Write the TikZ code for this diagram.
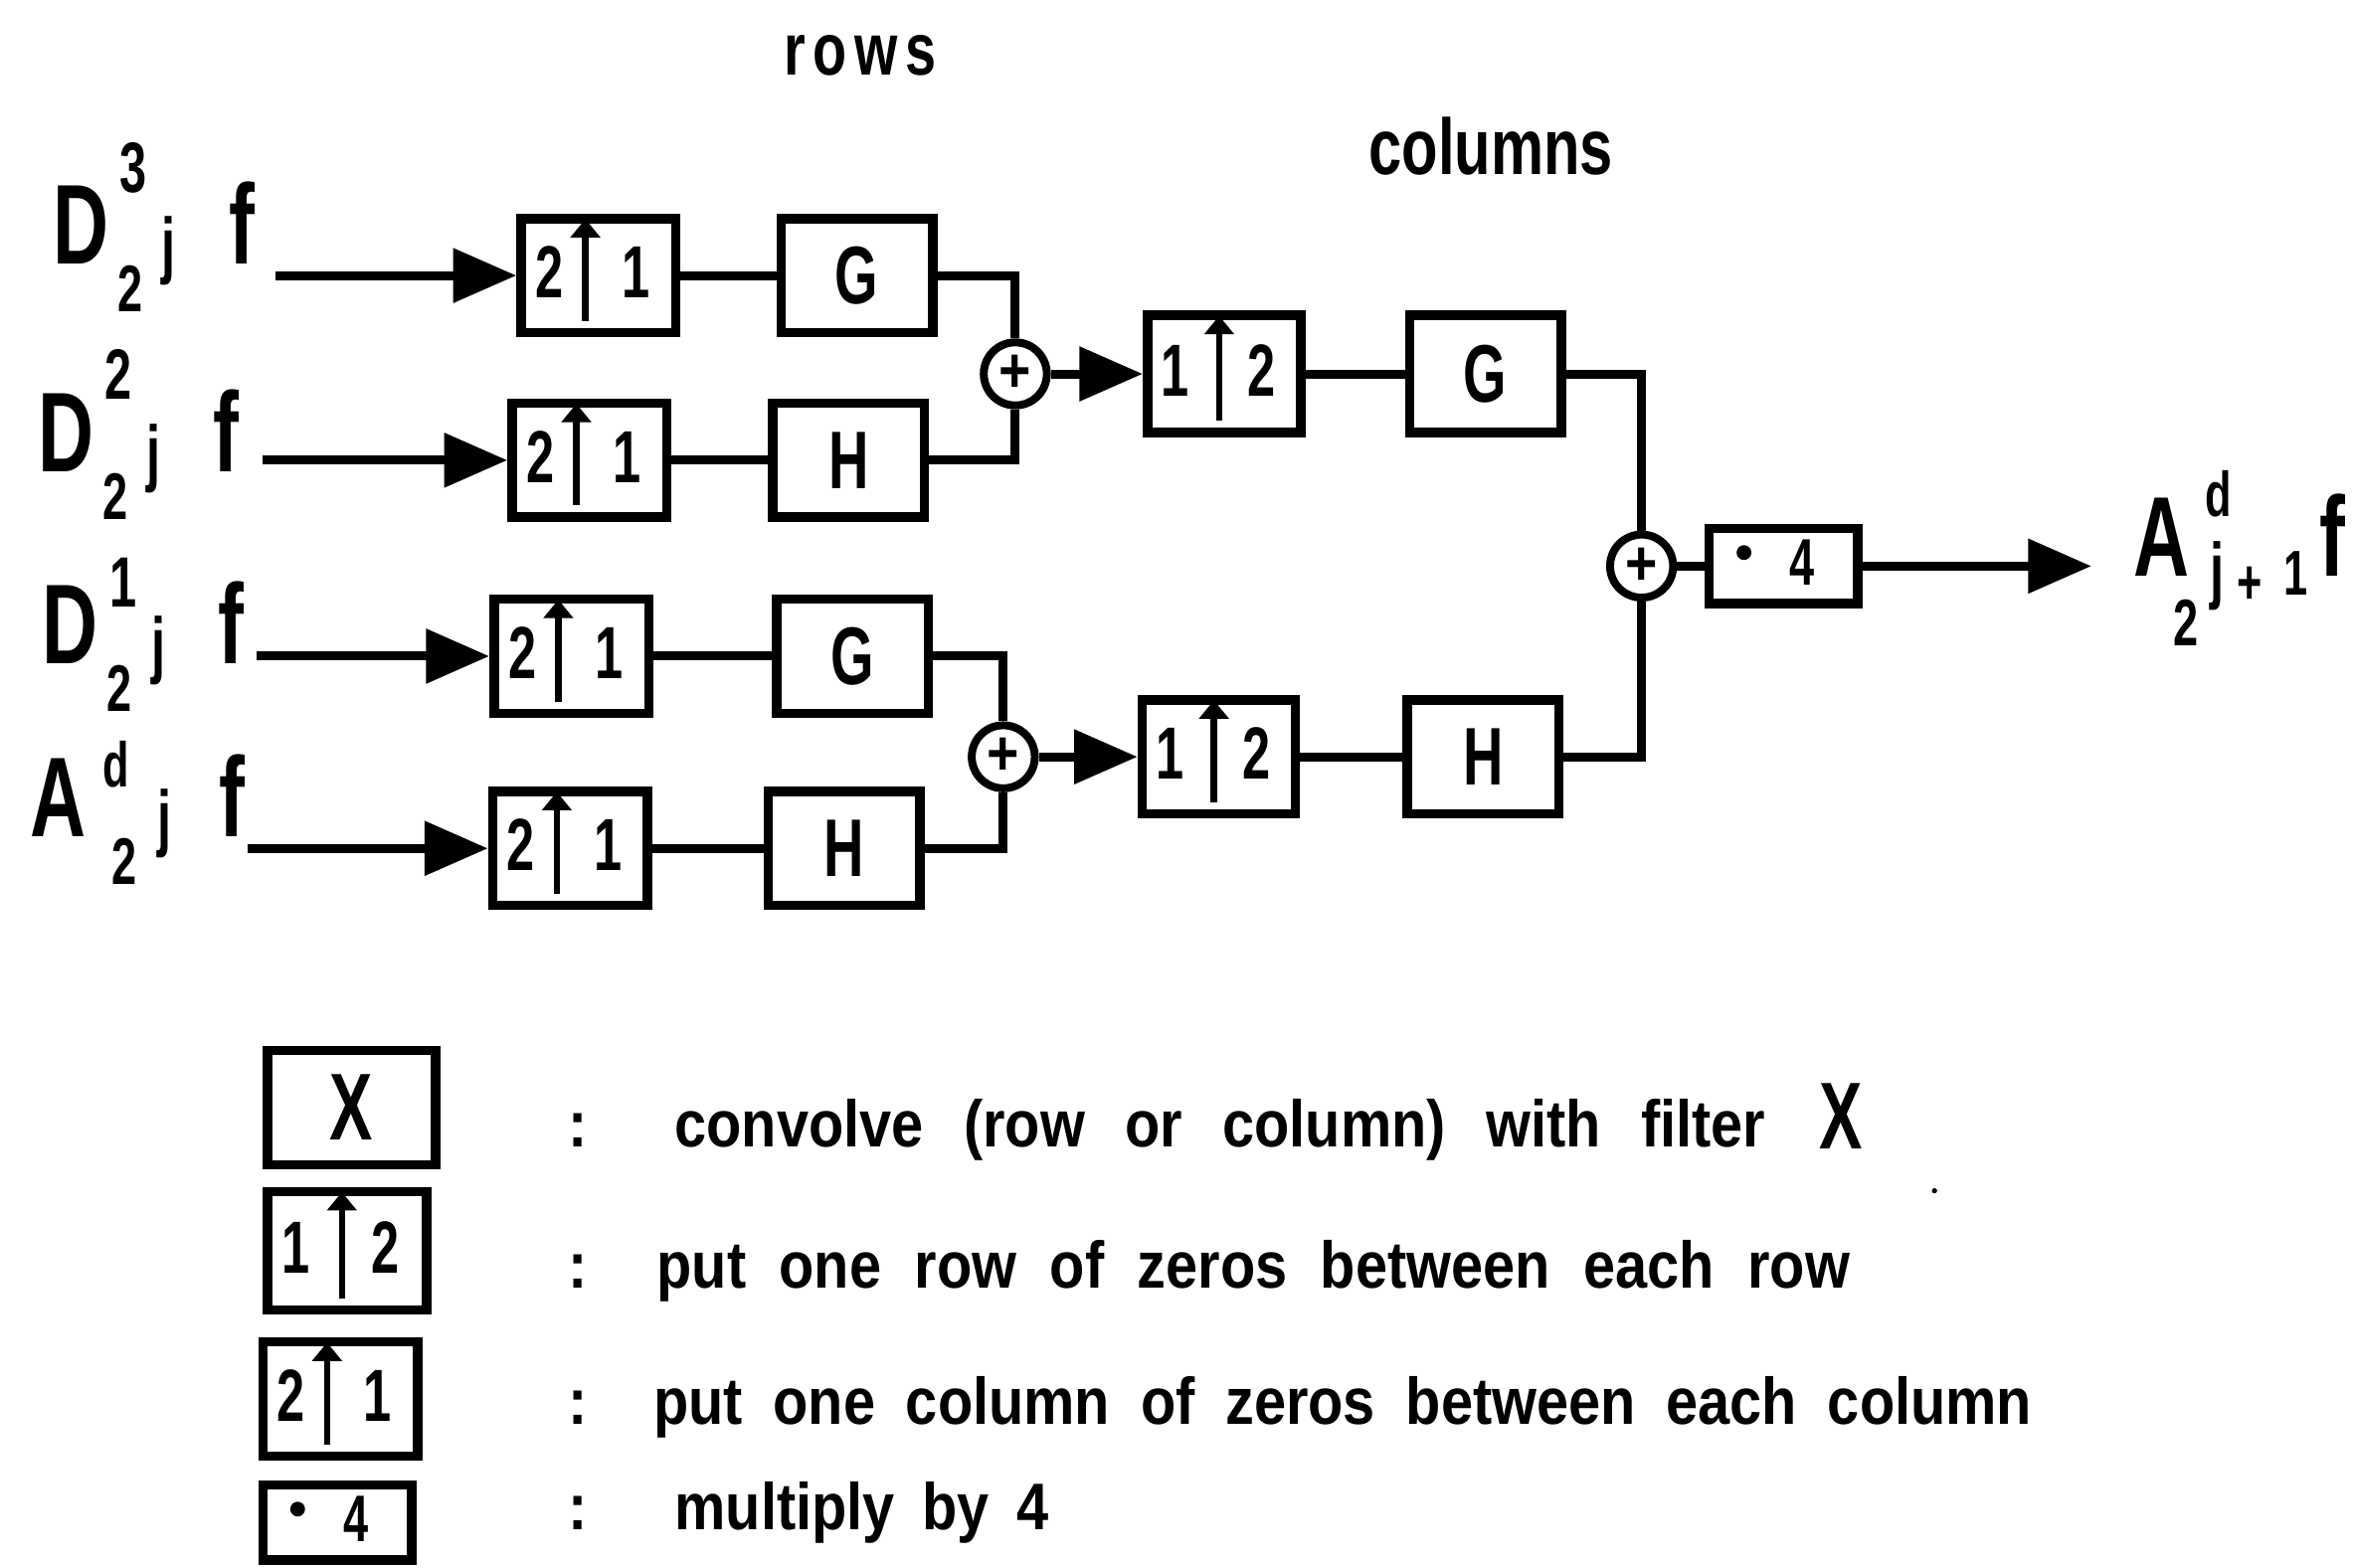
\documentclass[tikz,border=0pt]{standalone}
\usepackage{fontspec}
\setmainfont{Liberation Sans}
\newfontfamily\nar[FakeStretch=0.68]{Liberation Sans Bold}
\newfontfamily\semi[FakeStretch=0.75]{Liberation Sans Bold}
\newfontfamily\leg[FakeStretch=0.87]{Liberation Sans Bold}
\usetikzlibrary{arrows.meta,calc}
\newlength\pu \setlength\pu{0.2mm}
\newcommand\gl[3]{\rlap{\hspace{#1\pu}\raisebox{#2\pu}{#3}}}
\newcommand\fs[1]{\fontsize{#1}{#1}\selectfont}
\newcommand\inlab[3]{\gl{0}{0}{\nar\fs{43}#1}\gl{44.5}{#3}{\nar\fs{27}#2}\gl{43}{-32}{\nar\fs{25}2}\gl{72.5}{-4}{\nar\fs{28}j}\hspace{117\pu}{\nar\fs{43}f}}
\tikzset{
  ups/.style={draw, line width=3.6pt, inner sep=0pt},
  filt/.style={draw, line width=3.6pt, inner sep=0pt, minimum width=101\pu, minimum height=76\pu, font=\nar\fs{31}},
  adder/.style={draw, circle, line width=3pt, inner sep=0pt, minimum size=42\pu, font=\leg\fs{24}},
  dig/.style={anchor=base, inner sep=0pt, font=\nar\fs{28}},
  wire/.style={line width=3.4pt},
  arr/.style={wire, -{Triangle[length=24pt,width=20pt]}},
  uparr/.style={line width=2.4pt, shorten >=2pt, -{Triangle[length=7pt,width=11pt]}},
  txt/.style={anchor=base west, inner sep=0pt, font=\leg\fs{25}},
}
\newcommand\upbox[7]{%
  \node[ups, minimum width=#6\pu, minimum height=#7\pu] (#1) at #2 {};
  \node[dig] (#1-a) at ($(#1.west)!0.2!(#1.east)+(0,15)$) {#3};
  \node[dig] (#1-b) at ($(#1.west)!0.73!(#1.east)+(0,15)$) {#4};
  \draw[uparr] ($(#1.south west)!#5!(#1.south east)+(0,-11)$) -- ($(#1.north west)!#5!(#1.north east)$);
}
\newcommand\mulbox[4]{%
  \node[ups, minimum width=#3\pu, minimum height=#4\pu] (#1) at #2 {};
  \fill ($(#1.west)!0.25!(#1.east)+(0,-9)$) circle (2.8pt);
  \node[dig, font=\nar\fs{25}] (#1-n) at ($(#1.west)!0.62!(#1.east)+(0,13)$) {4};
}
\begin{document}
\begin{tikzpicture}[x=0.2mm, y=-0.2mm]
\useasboundingbox (0,0) rectangle (1568,1044);

% headings
\node[anchor=base west, inner sep=0pt, font=\semi\fs{28}\addfontfeature{LetterSpace=10}] (rows) at (522,50) {rows};
\node[anchor=base west, inner sep=0pt, font=\semi\fs{30}] (cols) at (911,116) {columns};

% input labels
\node[anchor=base west, inner sep=0pt] (in3) at (35,175.5) {\inlab{D}{3}{47.5}};
\node[anchor=base west, inner sep=0pt] (in2) at (25,314) {\inlab{D}{2}{48}};
\node[anchor=base west, inner sep=0pt] (in1) at (28,442) {\inlab{D}{1}{38}};
\node[anchor=base west, inner sep=0pt] (inA) at (20,557) {\gl{0}{0}{\nar\fs{43}A}\gl{48}{33}{\nar\fs{24}d}\gl{54.4}{-32}{\nar\fs{25}2}\gl{84.4}{-4}{\nar\fs{28}j}\hspace{125.4\pu}{\nar\fs{43}f}};

% row stage
\upbox{u1}{(398.5,183.5)}{2}{1}{0.42}{103}{76}
\upbox{u2}{(392.5,306.5)}{2}{1}{0.42}{103}{76}
\upbox{u3}{(380.5,437)}{2}{1}{0.42}{103}{76}
\upbox{u4}{(379.5,565)}{2}{1}{0.42}{103}{76}
\node[filt] (f1) at (570.5,183.5) {G};
\node[filt] (f2) at (565,306.5) {H};
\node[filt] (f3) at (567.5,437) {G};
\node[filt] (f4) at (562,565) {H};

\coordinate (s1) at (183.6,183.5);
\coordinate (s2) at (175,306.5);
\coordinate (s3) at (171,437);
\coordinate (s4) at (164.7,565);
\draw[arr] (s1) -- (u1.west);
\draw[arr] (s2) -- (u2.west);
\draw[arr] (s3) -- (u3.west);
\draw[arr] (s4) -- (u4.west);
\draw[wire] (u1) -- (f1);
\draw[wire] (u2) -- (f2);
\draw[wire] (u3) -- (f3);
\draw[wire] (u4) -- (f4);

\node[adder] (a1) at (676,249) {+};
\node[adder] (a2) at (668,504) {+};
\draw[wire] (f1.east) -| (a1.north);
\draw[wire] (f2.east) -| (a1.south);
\draw[wire] (f3.east) -| (a2.north);
\draw[wire] (f4.east) -| (a2.south);

% column stage
\upbox{c1}{(815,249)}{1}{2}{0.47}{102}{78}
\upbox{c2}{(811.5,504)}{1}{2}{0.47}{102}{76}
\node[filt, minimum height=78\pu] (g1) at (989,249) {G};
\node[filt] (g2) at (987.5,504) {H};
\draw[arr] (a1) -- (c1.west);
\draw[arr] (a2) -- (c2.west);
\draw[wire] (c1) -- (g1);
\draw[wire] (c2) -- (g2);

\node[adder] (a3) at (1093,377) {+};
\draw[wire] (g1.east) -| (a3.north);
\draw[wire] (g2.east) -| (a3.south);
\mulbox{m}{(1187.5,377)}{99}{50}
\draw[wire] (a3) -- (m);
\coordinate (tip) at (1392.5,377);
\draw[arr] (m.east) -- (tip);

\node[anchor=base west, inner sep=0pt] (out) at (1420,384) {\gl{0}{0}{\nar\fs{43}A}\gl{48}{40}{\nar\fs{24}d}\gl{27}{-46}{\nar\fs{25}2}\gl{51}{-12}{\nar\fs{28}j}\gl{69}{-18}{\nar\fs{24}+}\gl{100}{-12}{\nar\fs{24}1}\hspace{124\pu}{\nar\fs{43}f}};

% legend
\node[filt, minimum width=112\pu, minimum height=76\pu, font=\nar\fs{36}] (lx) at (234,737.6) {X};
\upbox{l12}{(231,833)}{1}{2}{0.47}{106}{79}
\upbox{l21}{(226.5,931.7)}{2}{1}{0.42}{103}{76}
\mulbox{lm}{(224.5,1014)}{99}{50}

\node[anchor=base, inner sep=0pt, font=\leg\fs{25}] (k1) at (385,763.5) {:};
\node[anchor=base, inner sep=0pt, font=\leg\fs{25}] (k2) at (385,857.6) {:};
\node[anchor=base, inner sep=0pt, font=\leg\fs{25}] (k3) at (385,948.3) {:};
\node[anchor=base, inner sep=0pt, font=\leg\fs{25}] (k4) at (385,1018.8) {:};

\node[txt] (t1) at (449,763.5) {\spaceskip=15.2pt\relax convolve (row or column) with filter};
\node[anchor=base west, inner sep=0pt, font=\nar\fs{36}] (t1x) at (1211,765) {X};
\node[txt] (t2) at (437,857.6) {\spaceskip=12.6pt\relax put one row of zeros between each row};
\node[txt] (t3) at (434.7,948.3) {\spaceskip=11.6pt\relax put one column of zeros between each column};
\node[txt] (t4) at (449,1018.8) {\spaceskip=10.4pt\relax multiply by 4};

\fill (1288,793) circle (1pt);
\end{tikzpicture}
\end{document}
